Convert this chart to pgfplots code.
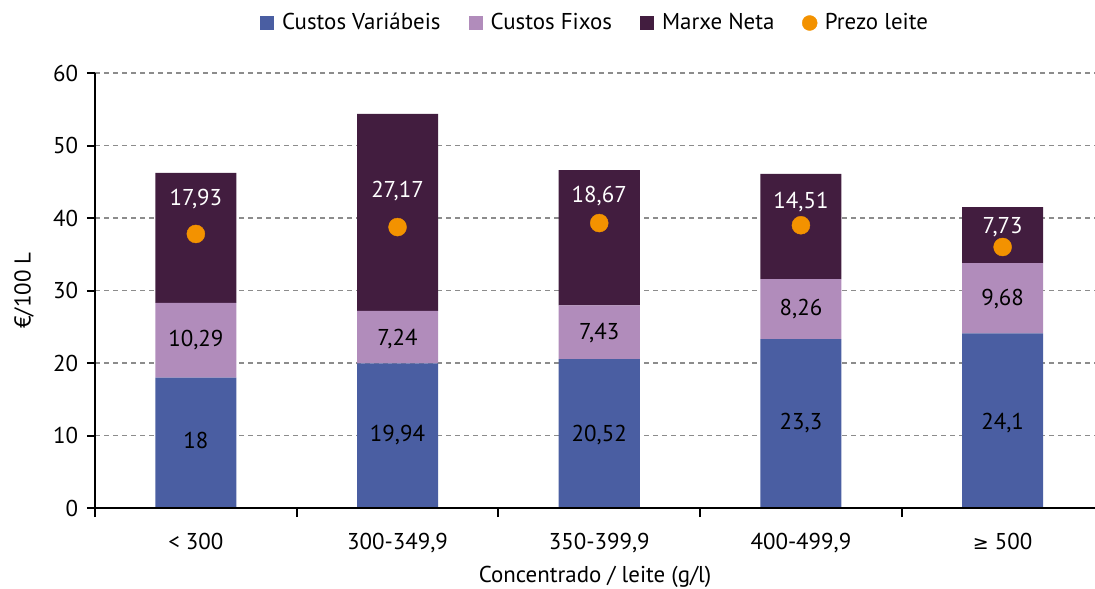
\documentclass[border=0pt]{standalone}
\usepackage{pgfplots}
\pgfplotsset{compat=1.18}
\usepackage{fontspec}
\setmainfont{PT Sans}
\newfontfamily\symf{DejaVu Sans}
\definecolor{cvar}{HTML}{4A5EA2}
\definecolor{cfix}{HTML}{B18CBB}
\definecolor{cmar}{HTML}{421D3F}
\definecolor{cleite}{HTML}{F39200}
\definecolor{cgrid}{HTML}{8C8C8C}
\newcommand{\ff}{\fontsize{23}{27}\selectfont}
\begin{document}
\ff
\begin{tikzpicture}
\pgfplotsset{
  base/.style={scale only axis, width=1000bp, height=435bp,
    xmin=-0.5, xmax=4.458, ymin=0, ymax=60, font=\ff},
  lab/.style={draw=none, mark=none, nodes near coords, point meta=explicit symbolic,
    every node near coord/.append style={anchor=center, inner sep=0pt, text depth=0pt, text=#1, font=\ff}},
}
\useasboundingbox (-95bp,-81bp) rectangle (1000bp,508bp);
\begin{axis}[base,
  ybar stacked, bar width=81bp,
  axis line style={draw=none},
  xtick={0,...,4}, xticklabels={}, ytick={0,10,...,60}, yticklabels={},
  major tick length=0pt,
  ymajorgrids, grid style={cgrid, line width=1.6bp, dash pattern=on 5bp off 4bp},
  legend style={at={(0.5,1)}, anchor=center, yshift=50bp, xshift=-15bp, draw=none, fill=none,
    legend columns=4, font=\ff,
    nodes={inner sep=0pt}},
  legend image code/.code={\path (-28bp,0bp) (22bp,0bp); \fill[#1] (0bp,-7bp) rectangle (14bp,7bp);},
]
\addplot[fill=cvar, draw=none] coordinates {(0,18) (1,19.94) (2,20.52) (3,23.3) (4,24.1)};
\addlegendentry{Custos Variábeis}
\addplot[fill=cfix, draw=none] coordinates {(0,10.29) (1,7.24) (2,7.43) (3,8.26) (4,9.68)};
\addlegendentry{Custos Fixos}
\addplot[fill=cmar, draw=none] coordinates {(0,17.93) (1,27.17) (2,18.67) (3,14.51) (4,7.73)};
\addlegendentry{Marxe Neta}
\addlegendimage{legend image code/.code={\path (-28bp,0bp) (22bp,0bp); \fill[cleite] (7bp,0bp) circle (7.5bp);}}
\addlegendentry{Prezo leite}
\end{axis}
\begin{axis}[base,
  axis x line=bottom, axis y line=left,
  axis line style={line width=2bp, -},
  xtick={0,...,4},
  xticklabels={< 300, 300-349{,}9, 350-399{,}9, 400-499{,}9, {\symf\fontsize{19}{22}\selectfont ≥} 500},
  minor xtick={-0.5,0.5,1.5,2.5,3.5},
  major x tick style={draw=none},
  minor x tick style={black, line width=2bp},
  minor tick length=9bp,
  ytick={0,10,...,60},
  major y tick style={black, line width=2bp},
  major tick length=8bp,
  tick align=outside,
  /pgf/number format/assume math mode=true,
  xticklabel style={yshift=-9bp},
  yticklabel style={xshift=-1bp},
  xlabel={Concentrado / leite (g/l)},
  ylabel={€/100 L},
  xlabel style={yshift=2bp},
  ylabel style={yshift=4bp},
]
\addplot[only marks, mark=*, mark size=9bp, color=cleite] coordinates {(0,37.8) (1,38.75) (2,39.3) (3,39.0) (4,36.0)};
\addplot[lab=black] table[meta=l] {
x y l
0 9.4 18
1 10.3 19,94
2 10.3 20,52
3 11.9 23,3
4 11.9 24,1
};
\addplot[lab=black] table[meta=l] {
x y l
0 23.4 10,29
1 23.6 7,24
2 24.3 7,43
3 27.7 8,26
4 29.1 9,68
};
\addplot[lab=white] table[meta=l] {
x y l
0 42.8 17,93
1 43.9 27,17
2 43.2 18,67
3 42.5 14,51
4 39.0 7,73
};
\end{axis}
\end{tikzpicture}
\end{document}
